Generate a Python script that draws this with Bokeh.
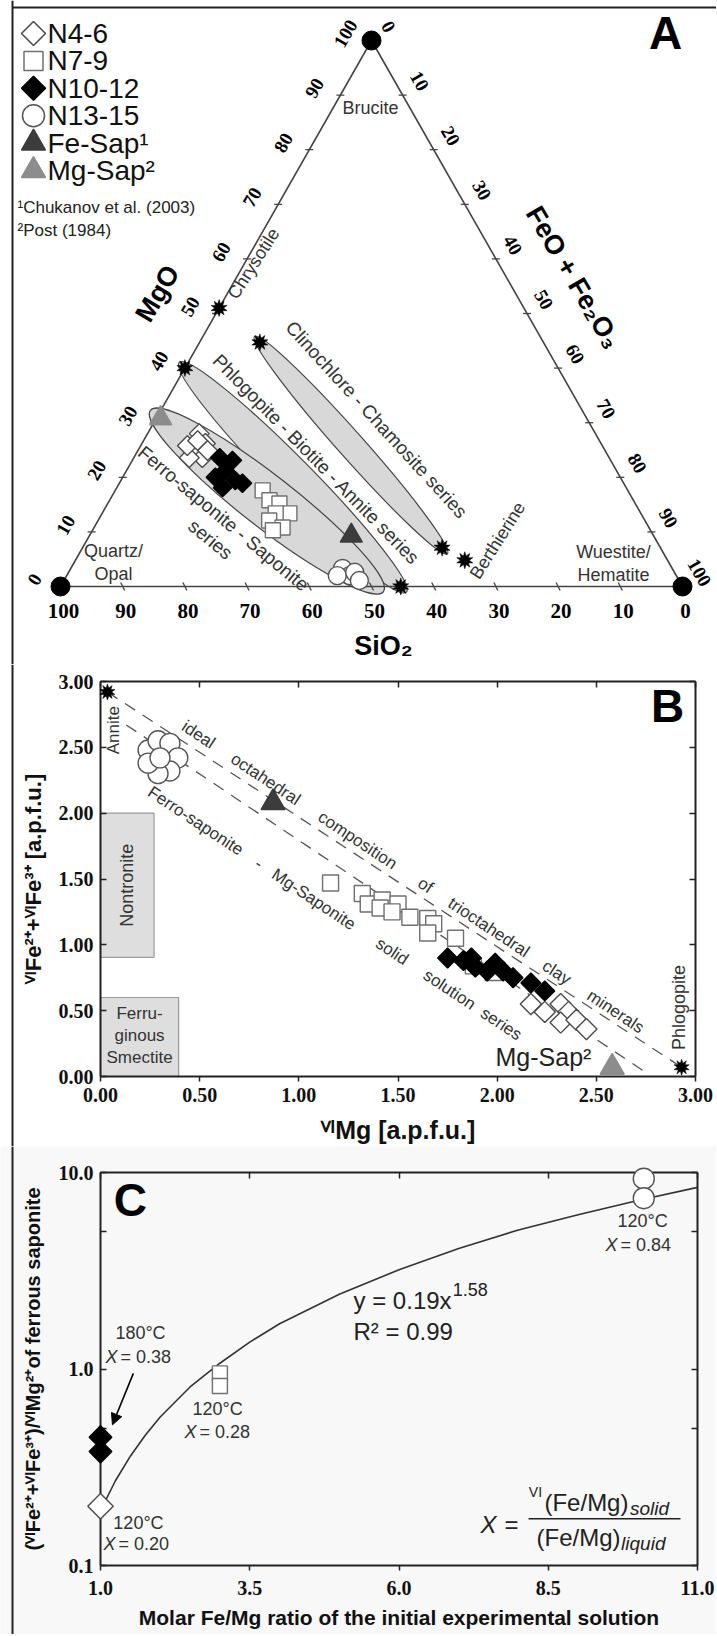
import numpy as np
from bokeh.plotting import figure
from bokeh.layouts import column
from bokeh.models import (Range1d, LinearAxis, LogAxis, FixedTicker, Span,
                          NumeralTickFormatter, CustomJSTickFormatter, Arrow, NormalHead)
from bokeh.core.properties import value
from bokeh.embed import file_html
from bokeh.resources import INLINE

# ============================================================ DATA
# ---- Panel A: ternary compositions, wt% SiO2 and MgO (FeO+Fe2O3 = 100 - SiO2 - MgO)
a_n46_sio2 = [63.7, 63.6, 66.3, 65.4, 67.5, 66.7, 64.6, 63.9]
a_n46_mgo = [28.0, 26.2, 24.9, 23.6, 23.6, 25.8, 26.7, 24.9]
a_n79_sio2 = [58.7, 58.5, 57.2, 56.5, 58.7, 60.4, 58.9, 60.7]
a_n79_mgo = [17.6, 15.8, 15.2, 13.4, 13.4, 12.1, 10.8, 10.3]
a_n1012_sio2 = [62.6, 60.8, 62.9, 65.1, 62.2, 61.3, 64.9]
a_n1012_mgo = [23.6, 23.1, 21.2, 20.0, 19.4, 18.9, 18.1]
a_n1315_sio2 = [53.0, 52.5, 54.5, 51.4, 51.4]
a_n1315_mgo = [3.3, 2.0, 2.0, 2.6, 1.1]
a_fesap_sio2 = [48.6]
a_fesap_mgo = [9.3]
a_mgsap_sio2 = [68.5]
a_mgsap_mgo = [30.8]
apex_names = ["Quartz/\nOpal", "Brucite", "Wuestite/\nHematite"]
apex_sio2 = [100.0, 0.0, 0.0]
apex_mgo = [0.0, 100.0, 0.0]
mineral_names = ["Chrysotile", "Phlogopite", "Clinochlore", "Chamosite", "Berthierine", "Annite"]
mineral_sio2 = [49.0, 60.0, 45.6, 35.1, 32.6, 45.3]
mineral_mgo = [51.0, 40.0, 44.7, 7.1, 4.8, 0.0]
field_names = ["Clinochlore - Chamosite series",
               "Phlogopite - Biotite - Annite series",
               "Ferro-saponite - Saponite"]
field_a_sio2 = [45.6, 60.0, 68.5]
field_a_mgo = [44.7, 40.0, 30.8]
field_b_sio2 = [35.1, 45.3, 49.5]
field_b_mgo = [7.1, 0.0, 0.5]
tern_ticks = [0, 10, 20, 30, 40, 50, 60, 70, 80, 90, 100]

# ---- Panel B: VI Mg vs VI(Fe2+ + Fe3+), a.p.f.u.
b_n46_mg = [2.17, 2.24, 2.32, 2.36, 2.32, 2.40, 2.45]
b_n46_fe = [0.55, 0.49, 0.55, 0.49, 0.41, 0.43, 0.36]
b_n79_mg = [1.16, 1.32, 1.35, 1.42, 1.41, 1.50, 1.47, 1.56, 1.65, 1.68, 1.65, 1.79, 1.88, 1.98]
b_n79_fe = [1.47, 1.39, 1.31, 1.34, 1.28, 1.31, 1.25, 1.21, 1.20, 1.16, 1.09, 1.05, 0.84, 0.79]
b_n1012_mg = [1.75, 1.83, 1.87, 1.89, 1.95, 1.99, 2.03, 2.08, 2.17, 2.24]
b_n1012_fe = [0.90, 0.88, 0.90, 0.83, 0.80, 0.86, 0.80, 0.75, 0.71, 0.65]
b_n1315_mg = [0.24, 0.29, 0.35, 0.39, 0.35, 0.29, 0.24, 0.30]
b_n1315_fe = [2.48, 2.55, 2.53, 2.42, 2.32, 2.30, 2.38, 2.42]
b_fesap_mg = [0.87]
b_fesap_fe = [2.08]
b_mgsap_mg = [2.58]
b_mgsap_fe = [0.07]
b_end_names = ["Annite", "Phlogopite"]
b_end_mg = [0.035, 2.93]
b_end_fe = [2.92, 0.07]
ideal_line_mg = [0.035, 2.93]
ideal_line_fe = [2.92, 0.07]
series_line_mg = [0.13, 2.76]
series_line_fe = [2.67, 0.02]
box_names = ["Nontronite", "Ferru-\nginous\nSmectite"]
box_left = [0.0, 0.0]
box_right = [0.27, 0.394]
box_bottom = [0.904, 0.0]
box_top = [2.0, 0.60]
b_ticks = [0.0, 0.5, 1.0, 1.5, 2.0, 2.5, 3.0]

# ---- Panel C: molar Fe/Mg of solution vs (Fe2+ + Fe3+)/Mg of saponite
c_n46_x = [1.0]
c_n46_y = [0.20]
c_n79_x = [3.0, 3.0]
c_n79_y = [0.95, 0.82]
c_n1012_x = [1.0, 1.0]
c_n1012_y = [0.45, 0.38]
c_n1315_x = [10.1, 10.1]
c_n1315_y = [9.3, 7.4]
fit_x = [1.0, 1.25, 1.5, 1.75, 2.0, 2.5, 3.0, 3.5, 4.0, 5.0, 6.0, 7.0, 8.0, 9.0, 10.0, 11.0]
fit_y = [0.19, 0.27, 0.36, 0.46, 0.57, 0.81, 1.07, 1.37, 1.70, 2.4, 3.2, 4.1, 5.1, 6.1, 7.2, 8.4]
c_temp = ["180°C", "120°C", "120°C", "120°C"]
c_xval = ["= 0.38", "= 0.28", "= 0.20", "= 0.84"]
c_xticks = [1.0, 3.5, 6.0, 8.5, 11.0]
c_yticks = [0.1, 1.0, 10.0]
c_yminor = [0.5, 5.0]

# ============================================================ STYLE / LAYOUT CONSTANTS
SANS, SERIF = "Liberation Sans", "Liberation Serif"
INK, TXT = "#222222", "#333333"
W = 716                       # canvas width of each panel
HA, HB, HC = 664, 482, 488    # panel heights (stacked from page top)
STY = {
    "n46": dict(marker="square", angle=np.pi / 4, fill_color="white", line_color="#4a4a4a"),
    "n79": dict(marker="square", angle=0.0, fill_color="white", line_color="#707070"),
    "n1012": dict(marker="square", angle=np.pi / 4, fill_color="black", line_color="black"),
    "n1315": dict(marker="circle", angle=0.0, fill_color="white", line_color="#555555"),
    "fesap": dict(marker="triangle", angle=0.0, fill_color="#3c3c3c", line_color="#3c3c3c"),
    "mgsap": dict(marker="triangle", angle=0.0, fill_color="#8c8c8c", line_color="#8c8c8c"),
}
BLANK = CustomJSTickFormatter(code="return ''")


def pts(fig, x, y, key, size, lw=1.4, level="glyph"):
    fig.scatter(x, y, size=size, line_width=lw, level=level, **STY[key])


def star(fig, x, y, size, level="glyph"):
    for a in (0.0, np.pi / 5):
        fig.scatter(x, y, marker="star", size=size, angle=a, level=level,
                    fill_color="black", line_color="black", line_width=0.5)


def txt(fig, x, y, s, size, font=SANS, color=TXT, angle=0.0, align="center",
        baseline="middle", style="normal"):
    fig.text(x=list(np.atleast_1d(x)), y=list(np.atleast_1d(y)),
             text=list(np.atleast_1d(s)), text_font=value(font),
             text_font_size=f"{size}px", text_color=color, angle=angle,
             text_align=align, text_baseline=baseline, text_font_style=style,
             text_line_height=1.15)


def border(fig, xloc):
    fig.add_layout(Span(location=xloc, dimension="height", line_color=INK, line_width=2))


# ============================================================ PANEL A
SX, SY = 622.0, 546.0          # pixels per ternary unit (base, height)


def tern(sio2, mgo):
    s = np.asarray(sio2, dtype=float) / 100.0
    m = np.asarray(mgo, dtype=float) / 100.0
    f = 1.0 - s - m
    return f + m / 2.0, m


def pa(px, py):                # page pixel -> panel A data (annotations only)
    return (px - 60.0) / SX, (586.0 - py) / SY


pA = figure(width=W, height=HA, title=None,
            x_range=Range1d(pa(0, 0)[0], pa(W, 0)[0]),
            y_range=Range1d(pa(0, HA)[1], pa(0, 0)[1]),
            x_axis_type=None, y_axis_type=None, toolbar_location=None,
            output_backend="svg", min_border=0, outline_line_color=None)
border(pA, pa(12, 0)[0])
pA.line([pa(12, 0)[0], pa(W, 0)[0]], [pa(0, 7)[1]] * 2, line_color=INK, line_width=2)

# solid-solution fields
ax_, ay_ = tern(field_a_sio2, field_a_mgo)
bx_, by_ = tern(field_b_sio2, field_b_mgo)
f_w = [26, 38, 52]
f_pad = [16, 16, 26]
for i in range(len(field_names)):
    dxp = (bx_[i] - ax_[i]) * SX
    dyp = (by_[i] - ay_[i]) * SY
    pA.ellipse(x=[(ax_[i] + bx_[i]) / 2], y=[(ay_[i] + by_[i]) / 2],
               width=[np.hypot(dxp, dyp) + f_pad[i]], height=[f_w[i]],
               angle=[np.arctan2(dyp, dxp)], width_units="screen", height_units="screen",
               fill_color="#d8d8d8", line_color="#444444", line_width=1.2)

# triangle edges
vx, vy = tern(apex_sio2, apex_mgo)
pA.line(list(vx) + [vx[0]], list(vy) + [vy[0]], line_color="#444444", line_width=1.6)

# ticks + labels
tv = np.array(tern_ticks[1:-1], dtype=float)
bx, byy = tern(tv, np.zeros_like(tv))
pA.segment(bx - 2 / SX, byy + 4 / SY, bx + 2 / SX, byy - 4 / SY, line_color="#444444", line_width=1.3)
lx, ly = tern(100 - tv, tv)
pA.segment(lx - 4 / SX, ly, lx + 4 / SX, ly, line_color="#444444", line_width=1.3)
rx, ry = tern(np.zeros_like(tv), 100 - tv)
pA.segment(rx - 4 / SX, ry, rx + 4 / SX, ry, line_color="#444444", line_width=1.3)

tk = np.array(tern_ticks, dtype=float)
labs = [str(int(t)) for t in tern_ticks]
bx, byy = tern(tk, np.zeros_like(tk))
txt(pA, bx + 3 / SX, byy - 24 / SY, labs, 21, font=SERIF, color="black", style="bold")
lx, ly = tern(100 - tk, tk)
txt(pA, lx - 26 / SX, ly + 7 / SY, labs, 19, font=SERIF, color="black", style="bold", angle=np.pi / 3)
rx, ry = tern(np.zeros_like(tk), 100 - tk)
txt(pA, rx + 17 / SX, ry + 14 / SY, labs, 19, font=SERIF, color="black", style="bold", angle=-np.pi / 3)

# data points
pts(pA, *tern(a_n46_sio2, a_n46_mgo), "n46", 14)
pts(pA, *tern(a_n1012_sio2, a_n1012_mgo), "n1012", 13)
pts(pA, *tern(a_n79_sio2, a_n79_mgo), "n79", 15)
pts(pA, *tern(a_n1315_sio2, a_n1315_mgo), "n1315", 18)
pts(pA, *tern(a_fesap_sio2, a_fesap_mgo), "fesap", 22)
pts(pA, *tern(a_mgsap_sio2, a_mgsap_mgo), "mgsap", 22)
mx, my = tern(mineral_sio2, mineral_mgo)
star(pA, mx, my, 17)
px_, py_ = tern(apex_sio2, apex_mgo)
pA.scatter(px_, py_, marker="circle", size=19, fill_color="black", line_color="black")

# mineral / field labels (page-pixel anchored annotations)
a_labels = [
    ("Brucite", 370, 107, 0.0, 18),
    ("Chrysotile", 253, 263, 57.5, 18),
    ("Quartz/\nOpal", 113, 562, 0.0, 18),
    ("Wuestite/\nHematite", 613, 563, 0.0, 18),
    ("Berthierine", 497, 540, 57.6, 18),
    (field_names[0], 376, 419, -47.6, 19),
    (field_names[1], 316, 459, -45.5, 19),
    (field_names[2], 223, 518, -39.7, 19),
    ("series", 210, 539, -39.7, 19),
]
for s, x, y, a, fs in a_labels:
    txt(pA, *pa(x, y), s, fs, angle=np.deg2rad(a))

txt(pA, *pa(157, 293), "MgO", 27, color="black", style="bold", angle=np.deg2rad(59.5))
txt(pA, *pa(573, 277), "FeO + Fe₂O₃", 27, color="black", style="bold", angle=np.deg2rad(-59.5))
txt(pA, *pa(383, 645), "SiO₂", 27, color="black", style="bold")
txt(pA, *pa(665, 32), "A", 46, color="black", style="bold")

# legend
leg = [("N4-6", "n46", 17), ("N7-9", "n79", 19), ("N10-12", "n1012", 17),
       ("N13-15", "n1315", 22), ("Fe-Sap¹", "fesap", 24), ("Mg-Sap²", "mgsap", 24)]
for i, (lab, key, sz) in enumerate(leg):
    yy = 33 + i * 27.4
    gx, gy = pa(33, yy)
    pA.scatter([gx], [gy], size=sz, line_width=1.5, **STY[key])
    txt(pA, *pa(47, yy), lab, 28, color="#111111", align="left")
txt(pA, *pa(17, 207), "¹Chukanov et al. (2003)", 17, color="#222222", align="left")
txt(pA, *pa(17, 230), "²Post (1984)", 17, color="#222222", align="left")


# ============================================================ axis helper
def style_axis(ax, ticker, tick_in, tick_out, loc, bounds, fmt=None, lab_size=20, standoff=6,
               show=True, title=None, title_size=22, title_standoff=8):
    ax.ticker = ticker
    ax.fixed_location = loc
    ax.bounds = bounds
    ax.formatter = fmt if show else BLANK
    ax.axis_line_color = INK
    ax.axis_line_width = 2
    ax.major_tick_in = tick_in
    ax.major_tick_out = tick_out
    ax.minor_tick_in = tick_in
    ax.minor_tick_out = tick_out
    ax.major_tick_line_color = INK
    ax.minor_tick_line_color = INK
    ax.major_tick_line_width = 1.5
    ax.minor_tick_line_width = 1.5
    ax.major_label_text_font = SERIF
    ax.major_label_text_font_style = "bold"
    ax.major_label_text_color = "#111111"
    ax.major_label_standoff = standoff
    ax.major_label_text_font_size = f"{lab_size}px"
    if title is not None:
        ax.axis_label = title
        ax.axis_label_text_font = SANS
        ax.axis_label_text_font_style = "bold"
        ax.axis_label_text_font_size = f"{title_size}px"
        ax.axis_label_text_color = "#111111"
        ax.axis_label_standoff = title_standoff


# ============================================================ PANEL B
# canvas = frame (page y 664..1146); plot box 0..3 at page x 100..695, y 681..1076
KXB, KYB = 595 / 3.0, 395 / 3.0
pB = figure(width=W, height=HB, title=None,
            x_range=Range1d(-100 / KXB, 3 + (W - 695) / KXB),
            y_range=Range1d(-(HA + HB - 1076) / KYB, 3 + (681 - HA) / KYB),
            min_border=0, toolbar_location=None, output_backend="svg",
            outline_line_color=None)
pB.grid.visible = False
border(pB, (12 - 100) / KXB)
fmtB = NumeralTickFormatter(format="0.00")
style_axis(pB.xaxis[0], FixedTicker(ticks=b_ticks), 0, 5, 0.0, (0, 3), fmtB, 20, 6,
           title="ⱽᴵMg [a.p.f.u.]", title_size=25, title_standoff=11)
style_axis(pB.yaxis[0], FixedTicker(ticks=b_ticks), 6, 0, 0.0, (0, 3), fmtB, 20, 7,
           title="ⱽᴵFe²⁺+ⱽᴵFe³⁺ [a.p.f.u.]", title_size=22, title_standoff=10)
topB = LinearAxis()
style_axis(topB, FixedTicker(ticks=b_ticks), 6, 0, 3.0, (0, 3), show=False, standoff=0)
pB.add_layout(topB, "above")
rightB = LinearAxis()
style_axis(rightB, FixedTicker(ticks=b_ticks), 6, 0, 3.0, (0, 3), show=False, standoff=0)
pB.add_layout(rightB, "right")

pB.quad(left=box_left, right=box_right, bottom=box_bottom, top=box_top,
        fill_color="#dedede", line_color="#9a9a9a", line_width=1.2)
txt(pB, (box_left[0] + box_right[0]) / 2, (box_bottom[0] + box_top[0]) / 2, box_names[0], 18, angle=np.pi / 2)
txt(pB, (box_left[1] + box_right[1]) / 2, 0.31, box_names[1], 17)

pB.line(ideal_line_mg, ideal_line_fe, line_color="#555555", line_width=1.3, line_dash="12 9")
pB.line(series_line_mg, series_line_fe, line_color="#555555", line_width=1.3, line_dash="12 9")

pts(pB, b_n1315_mg, b_n1315_fe, "n1315", 20)
pts(pB, b_n79_mg, b_n79_fe, "n79", 16)
pts(pB, b_n1012_mg, b_n1012_fe, "n1012", 14)
pts(pB, b_n46_mg, b_n46_fe, "n46", 15)
pts(pB, b_fesap_mg, b_fesap_fe, "fesap", 24)
pts(pB, b_mgsap_mg, b_mgsap_fe, "mgsap", 24, level="overlay")
star(pB, b_end_mg, b_end_fe, 16, level="overlay")

angB = -np.arctan(395.0 / 595.0)
up_words = ["ideal", "octahedral", "composition", "of", "trioctahedral", "clay", "minerals"]
up_pos = [0.494, 0.832, 1.296, 1.639, 1.957, 2.30, 2.597]
for w, x in zip(up_words, up_pos):
    txt(pB, x, 3.09 - x, w, 17, angle=angB)
lo_words = ["Ferro-saponite", "-", "Mg-Saponite", "solid", "solution", "series"]
lo_pos = [0.479, 0.80, 1.075, 1.47, 1.76, 2.02]
for w, x in zip(lo_words, lo_pos):
    txt(pB, x, 2.42 - x, w, 17, angle=angB)
txt(pB, 0.066, 2.63, b_end_names[0], 17, angle=np.pi / 2)
txt(pB, 2.915, 0.524, b_end_names[1], 18, angle=np.pi / 2)
txt(pB, 2.475, 0.15, "Mg-Sap²", 25, color="#222222", align="right")
txt(pB, 2.86, 2.817, "B", 46, color="black", style="bold")

# ============================================================ PANEL C
# canvas = frame (page y 1146..1634); plot box at page x 100..697, y 1172..1565
BG_C = "#f8f8f8"
KXC, KYC = 597 / 10.0, 393 / 2.0
TOPC = HA + HB
pC = figure(width=W, height=HC, title=None,
            x_range=Range1d(1 - 100 / KXC, 11 + (W - 697) / KXC),
            y_range=Range1d(10 ** (-1 - (TOPC + HC - 1565) / KYC), 10 ** (1 + (1172 - TOPC) / KYC)),
            y_axis_type="log", min_border=0, toolbar_location=None, output_backend="svg",
            outline_line_color=None, background_fill_color=BG_C, border_fill_color=BG_C)
pC.grid.visible = False
border(pC, 1 + (12 - 100) / KXC)
fmtC = NumeralTickFormatter(format="0.0")
style_axis(pC.xaxis[0], FixedTicker(ticks=c_xticks), 0, 5, 0.1, (1, 11), fmtC, 20, 10,
           title="Molar Fe/Mg ratio of the initial experimental solution", title_size=21, title_standoff=8)
style_axis(pC.yaxis[0], FixedTicker(ticks=c_yticks, minor_ticks=c_yminor), 6, 0, 1.0, (0.1, 10), fmtC, 20, 7,
           title="(ⱽᴵFe²⁺+ⱽᴵFe³⁺)/ⱽᴵMg²⁺of ferrous saponite", title_size=20, title_standoff=12)
topC = LinearAxis()
style_axis(topC, FixedTicker(ticks=c_xticks), 6, 0, 10.0, (1, 11), show=False, standoff=0)
pC.add_layout(topC, "above")
rightC = LogAxis()
style_axis(rightC, FixedTicker(ticks=c_yticks, minor_ticks=c_yminor), 6, 0, 11.0, (0.1, 10), show=False, standoff=0)
pC.add_layout(rightC, "right")

pC.line(fit_x, fit_y, line_color="#333333", line_width=1.6)
pts(pC, c_n79_x, c_n79_y, "n79", 15, level="overlay")
pts(pC, c_n1012_x, c_n1012_y, "n1012", 16, level="overlay")
pts(pC, c_n46_x, c_n46_y, "n46", 18, level="overlay")
pts(pC, c_n1315_x, c_n1315_y, "n1315", 21, level="overlay")

pC.add_layout(Arrow(end=NormalHead(size=11, fill_color="black", line_color="black"),
                    x_start=1.55, y_start=0.95, x_end=1.2, y_end=0.52,
                    line_color="black", line_width=1.6))

t_x = [1.67, 2.96, 1.636, 10.08]
t_y = [1.52, 0.627, 0.164, 5.64]
x_x = [1.285, 2.608, 1.251, 9.66]
x_y = [1.15, 0.479, 0.128, 4.26]
for i in range(4):
    txt(pC, t_x[i], t_y[i], c_temp[i], 18)
    txt(pC, x_x[i], x_y[i], "X", 18, align="right", style="italic")
    txt(pC, x_x[i] + 0.05, x_y[i], c_xval[i], 18, align="left")

txt(pC, 5.238, 2.24, "y = 0.19x", 24, color="#222222", align="left")
txt(pC, 6.90, 2.55, "1.58", 18, color="#222222", align="left")
txt(pC, 5.238, 1.56, "R² = 0.99", 24, color="#222222", align="left")
txt(pC, 7.50, 0.1615, "X", 24, color="#222222", style="italic")
txt(pC, 7.885, 0.1615, "=", 24, color="#222222")
pC.segment([8.17], [0.173], [10.715], [0.173], line_color="#222222", line_width=1.5)
txt(pC, 8.286, 0.2375, "VI", 14, color="#222222")
txt(pC, 9.14, 0.209, "(Fe/Mg)", 24, color="#222222")
txt(pC, 9.87, 0.194, "solid", 19, color="#222222", style="italic", align="left")
txt(pC, 9.007, 0.139, "(Fe/Mg)", 24, color="#222222")
txt(pC, 9.72, 0.129, "liquid", 19, color="#222222", style="italic", align="left")
txt(pC, 1.50, 7.21, "C", 46, color="black", style="bold")

# ============================================================ LAYOUT
layout = column(pA, pB, pC)
open("out.html", "w").write(file_html(layout, INLINE))
